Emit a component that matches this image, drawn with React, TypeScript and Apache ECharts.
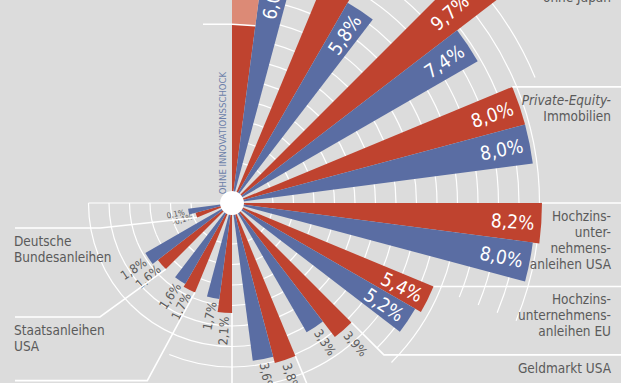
import React, { useEffect, useRef } from "react";
import * as echarts from "echarts";

// ---------------- data ----------------
const categories = [
  "",
  "",
  "ohne Japan",
  "Private-Equity-\nImmobilien",
  "Hochzins-\nunter-\nnehmens-\nanleihen USA",
  "Hochzins-\nunternehmens-\nanleihen EU",
  "Geldmarkt USA",
  "",
  "",
  "",
  "Staatsanleihen\nUSA",
  "Deutsche\nBundesanleihen",
];
// red bars (first of each pair, clockwise)
const redValues = [4.2, 8.0, 9.7, 8.0, 8.2, 5.4, 3.9, 3.8, 2.1, 1.7, 1.6, -0.1];
// blue bars (second of each pair)
const blueValues = [6.0, 5.8, 7.4, 8.0, 8.0, 5.2, 3.3, 3.6, 1.7, 1.6, 1.8, 0.1];
// light red continuation on top of the first red bar
const lightRedValues = [3.6, 0, 0, 0, 0, 0, 0, 0, 0, 0, 0, 0];
const annotation = "OHNE INNOVATIONSSCHOCK";

// ---------------- layout / style ----------------
const W = 621;
const H = 383;
const CX = 232;
const CY = 203;
const SLOTS = 48; // 7.5 degrees per slot, three slots per category
const GROUP = 3;
const R_MIN = -1.25;
const R_MAX = 10;
const R_PX = 369;
const GRID_STEP = 0.625;
const gridReach = [7, 7, 9, 8.2, 8.2, 5.7, 4.6, 4.6, 3.8, 3.2, 3.2, 3.2];
type Leader = { endX: number; across?: boolean; elbowV?: number; elbowA?: number } | null;
const leaderLayout: Leader[] = [
  { endX: 203, across: true },
  null,
  null,
  { endX: W },
  { endX: W },
  { endX: W },
  { endX: W, elbowV: 5.3, elbowA: 18 },
  { endX: W, elbowV: 6.6, elbowA: 21 },
  { endX: 15, elbowV: 6.6, elbowA: 24 },
  { endX: 15, elbowV: 4.75, elbowA: 27.4 },
  { endX: 15, elbowV: 4.07, elbowA: 30.56 },
  { endX: 15, elbowV: 2.84, elbowA: 34.57 },
];
const italicFirstLine = [false, false, false, true, false, false, false, false, false, false, false, false];

const BG = "#dcdcdc";
const RED = "#bf432f";
const BLUE = "#5a6da3";
const LIGHT = "#dc8a76";
const TEXT = "#5a5a5a";
const NOTE = "#6b7fa9";
const FONT = "'Liberation Sans Narrow', 'DejaVu Sans Condensed', Roboto, sans-serif";

function polarPoint(api: any, v: number, a: number, cx: number, cy: number) {
  const p = api.coord([v, a]);
  const dx = p[0] - cx;
  const dy = cy - p[1];
  const r = typeof p[2] === "number" ? p[2] : Math.hypot(dx, dy);
  const th = typeof p[3] === "number" ? p[3] : Math.atan2(dy, dx);
  return { x: p[0], y: p[1], r, th };
}

function fmt(v: number) {
  return v.toFixed(1).replace(".", ",") + "%";
}

export default function App() {
  const ref = useRef<HTMLDivElement>(null);

  useEffect(() => {
    if (!ref.current) return;
    const chart = echarts.init(ref.current, undefined, { renderer: "svg" });

    const barData: number[][] = [];
    categories.forEach((_, k) => {
      barData.push([redValues[k], k * GROUP, 0, k]);
      barData.push([blueValues[k], k * GROUP + 1, 1, k]);
    });
    const lightData: number[][] = [];
    lightRedValues.forEach((v, k) => {
      if (v > 0) lightData.push([redValues[k] + v, k * GROUP, redValues[k], k]);
    });
    const gridData = gridReach.map((g, k) => [g, k * GROUP, k]);
    const leaderData: number[][] = [];
    leaderLayout.forEach((l, k) => {
      if (l) leaderData.push([redValues[k], k * GROUP, k]);
    });

    const option: any = {
      animation: false,
      backgroundColor: BG,
      polar: { center: [CX, CY], radius: [0, R_PX] },
      angleAxis: {
        type: "value",
        min: 0,
        max: SLOTS,
        startAngle: 90,
        clockwise: true,
        show: false,
      },
      radiusAxis: { type: "value", min: R_MIN, max: R_MAX, show: false },
      series: [
        {
          type: "custom",
          name: "grid",
          coordinateSystem: "polar",
          silent: true,
          z: 1,
          encode: { radius: 0, angle: 1 },
          data: gridData,
          renderItem: (params: any, api: any) => {
            const cx = params.coordSys.cx;
            const cy = params.coordSys.cy;
            const reach = api.value(0);
            const a = api.value(1);
            const k = api.value(2);
            const children: any[] = [];
            let lastT = 0;
            for (let j = 2; R_MIN + j * GRID_STEP <= reach + 1e-9; j++) {
              const t = R_MIN + j * GRID_STEP;
              lastT = t;
              const p0 = polarPoint(api, t, a, cx, cy);
              const p1 = polarPoint(api, t, a + GROUP, cx, cy);
              let th1 = p1.th;
              if (th1 > p0.th) th1 -= 2 * Math.PI;
              children.push({
                type: "arc",
                shape: { cx, cy, r: p0.r, startAngle: -p0.th, endAngle: -th1, clockwise: true },
                style: { stroke: "#ffffff", lineWidth: 1.2, fill: null },
              });
            }
            if (k === categories.length - 1) {
              const end = polarPoint(api, lastT, a + GROUP, cx, cy);
              children.push({
                type: "line",
                shape: { x1: cx, y1: cy, x2: end.x, y2: end.y },
                style: { stroke: "#ffffff", lineWidth: 1.2 },
              });
            }
            return { type: "group", children };
          },
        },
        {
          type: "custom",
          name: "bars",
          coordinateSystem: "polar",
          silent: true,
          z: 2,
          encode: { radius: 0, angle: 1 },
          data: barData,
          renderItem: (params: any, api: any) => {
            const cx = params.coordSys.cx;
            const cy = params.coordSys.cy;
            const v = api.value(0);
            const a = api.value(1);
            const kind = api.value(2);
            const k = api.value(3);
            const e0 = polarPoint(api, v, a, cx, cy);
            const e1 = polarPoint(api, v, a + 1, cx, cy);
            const th0 = e0.th;
            let th1 = e1.th;
            if (th1 > th0) th1 -= 2 * Math.PI;
            const r = e0.r;
            const children: any[] = [
              {
                type: "sector",
                shape: { cx, cy, r0: 0, r, startAngle: -th0, endAngle: -th1, clockwise: true },
                style: { fill: kind === 0 ? RED : BLUE },
              },
            ];
            const hasLight = kind === 0 && lightRedValues[k] > 0;
            if (!hasLight) {
              const thm = (th0 + th1) / 2;
              const abs = Math.abs(v);
              let lr: number;
              let align: string;
              let rot: number;
              let fill: string;
              let fs: number;
              if (abs >= 5) {
                lr = Math.min(r, 318) - 7;
                align = "right";
                rot = thm;
                fill = "#ffffff";
                fs = 19;
              } else {
                lr = r + 4;
                fill = TEXT;
                fs = abs < 1 ? 8 : 12.5;
                if (Math.cos(thm) > 0) {
                  align = "left";
                  rot = thm;
                } else {
                  align = "right";
                  rot = thm + Math.PI;
                }
              }
              children.push({
                type: "text",
                x: cx + lr * Math.cos(thm),
                y: cy - lr * Math.sin(thm),
                rotation: rot,
                style: {
                  text: fmt(v),
                  fill,
                  fontSize: fs,
                  fontFamily: FONT,
                  align,
                  verticalAlign: "middle",
                },
              });
            }
            return { type: "group", children };
          },
        },
        {
          type: "custom",
          name: "light",
          coordinateSystem: "polar",
          silent: true,
          z: 3,
          encode: { radius: 0, angle: 1 },
          data: lightData,
          renderItem: (params: any, api: any) => {
            const cx = params.coordSys.cx;
            const cy = params.coordSys.cy;
            const top = api.value(0);
            const a = api.value(1);
            const base = api.value(2);
            const e0 = polarPoint(api, top, a, cx, cy);
            const e1 = polarPoint(api, top, a + 1, cx, cy);
            const b0 = polarPoint(api, base, a, cx, cy);
            let th1 = e1.th;
            if (th1 > e0.th) th1 -= 2 * Math.PI;
            return {
              type: "sector",
              shape: { cx, cy, r0: b0.r, r: e0.r, startAngle: -e0.th, endAngle: -th1, clockwise: true },
              style: { fill: LIGHT },
            };
          },
        },
        {
          type: "custom",
          name: "leaders",
          coordinateSystem: "polar",
          silent: true,
          z: 4,
          encode: { radius: 0, angle: 1 },
          data: leaderData,
          renderItem: (params: any, api: any) => {
            const cx = params.coordSys.cx;
            const cy = params.coordSys.cy;
            const v = api.value(0);
            const a = api.value(1);
            const k = api.value(2);
            const L = leaderLayout[k] as any;
            const corner = polarPoint(api, v, a, cx, cy);
            let pts: number[][];
            let lineY: number;
            if (L.across) {
              const c2 = polarPoint(api, v, a + 1, cx, cy);
              pts = [
                [L.endX, corner.y],
                [corner.x, corner.y],
                [c2.x, c2.y],
              ];
              lineY = corner.y;
            } else {
              const elbow = L.elbowV != null ? polarPoint(api, L.elbowV, L.elbowA, cx, cy) : corner;
              pts = [
                [corner.x, corner.y],
                [elbow.x, elbow.y],
                [L.endX, elbow.y],
              ];
              lineY = elbow.y;
            }
            const children: any[] = [
              {
                type: "polyline",
                shape: { points: pts },
                style: { stroke: "#ffffff", lineWidth: 1.6, fill: null },
              },
            ];
            const name = categories[k];
            if (name && k !== 2) {
              const right = L.endX > cx;
              name.split("\n").forEach((line: string, i: number) => {
                children.push({
                  type: "text",
                  x: right ? 611 : 14,
                  y: lineY + 13 + 16 * i,
                  style: {
                    text: line,
                    fill: TEXT,
                    fontSize: 13.5,
                    fontFamily: FONT,
                    fontStyle: italicFirstLine[k] && i === 0 ? "italic" : "normal",
                    align: right ? "right" : "left",
                    verticalAlign: "middle",
                  },
                });
              });
            }
            return { type: "group", children };
          },
        },
      ],
      graphic: [
        {
          type: "circle",
          z: 100,
          shape: { cx: CX, cy: CY, r: 12 },
          style: { fill: "#ffffff" },
        },
        {
          type: "text",
          z: 100,
          x: 222,
          y: 133,
          rotation: Math.PI / 2,
          style: {
            text: annotation,
            fill: NOTE,
            fontSize: 9.5,
            fontFamily: FONT,
            align: "center",
            verticalAlign: "middle",
          },
        },
        {
          type: "text",
          z: 100,
          x: 611,
          y: -3,
          style: {
            text: categories[2],
            fill: TEXT,
            fontSize: 13.5,
            fontFamily: FONT,
            align: "right",
            verticalAlign: "middle",
          },
        },
      ],
    };

    chart.setOption(option);
    return () => chart.dispose();
  }, []);

  return (
    <div
      ref={ref}
      style={{ position: "fixed", left: 0, top: 0, width: W, height: H, overflow: "hidden" }}
    />
  );
}
